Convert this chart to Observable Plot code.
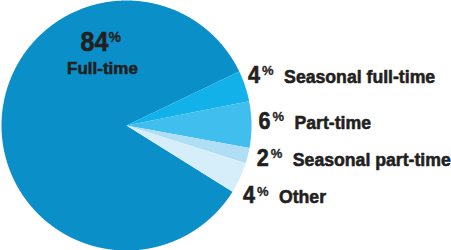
<!DOCTYPE html>
<html>
<head>
<meta charset="utf-8">
<script src="https://cdn.jsdelivr.net/npm/d3@7"></script>
<script src="https://cdn.jsdelivr.net/npm/@observablehq/plot@0.6"></script>
<style>
  html, body { margin: 0; padding: 0; background: #fff; }
  #chart svg { display: block; }
</style>
</head>
<body>
<div id="chart"></div>
<script>
// Employment type shares (percent)
const categories = ["Full-time", "Seasonal full-time", "Part-time", "Seasonal part-time", "Other"];
const shares = [84, 4, 6, 2, 4];

// Slice colours, in category order
const palette = ["#0a8fc9", "#13b1e9", "#40beee", "#b0dff5", "#d6eef9"];

// Layout: frame size, pie centre and radius in pixels
const W = 451, H = 250, CX = 126, CY = 125, R = 125;
const startDeg = 122; // where the first slice begins, clockwise from 12 o'clock
const font = "'Liberation Sans', Arial, sans-serif";
const ink = "#231f20";
// horizontal squeeze per font size, for a condensed look
const squeeze = {"24px": 0.9, "19px": 0.93, "27px": 0.93};
// a thin outline in the text colour makes the glyphs heavier
const heavy = {fill: ink, stroke: ink, strokeWidth: 0.6};

// pixel offsets of the outer labels from the rim point at each slice's mid-angle
const labelNudge = [null, [3, -3.5], [7, 4], [9, 10], [3, 25.5]];
// main label offset from the pie centre (pixels)
const mainLabel = {dx: -24, numberDy: -75, nameDy: -52};

const rows = categories.map((category, i) => ({category, share: shares[i]}));
const a0 = startDeg * Math.PI / 180;
const arcs = d3.pie().value(d => d.share).sort(null).startAngle(a0).endAngle(a0 + 2 * Math.PI)(rows);

// pie slices as planar polygons (unit radius, y pointing down)
const slices = arcs.map(a => {
  const n = Math.max(4, Math.ceil((a.endAngle - a.startAngle) / 0.005));
  const ring = [[0, 0]];
  for (let k = 0; k <= n; k++) {
    const t = a.startAngle + (a.endAngle - a.startAngle) * k / n;
    ring.push([Math.sin(t), -Math.cos(t)]);
  }
  ring.push([0, 0]);
  return {type: "Feature", properties: a.data, geometry: {type: "Polygon", coordinates: [ring]}};
});

// label anchors in the same unit space as the slices
const labels = arcs.map((a, i) => {
  const mid = (a.startAngle + a.endAngle) / 2;
  if (i === 0) {
    return {...a.data, main: true, x: mainLabel.dx / R, yNum: mainLabel.numberDy / R, yName: mainLabel.nameDy / R};
  }
  const [nx, ny] = labelNudge[i];
  return {...a.data, main: false, x: Math.sin(mid) + nx / R, yNum: -Math.cos(mid) + ny / R, yName: -Math.cos(mid) + ny / R};
});
const side = labels.filter(d => !d.main);
const main = labels.filter(d => d.main);

const frameDomain = {type: "MultiPoint", coordinates: [[-CX / R, -CY / R], [(W - CX) / R, (H - CY) / R]]};

const chart = Plot.plot({
  width: W,
  height: H,
  margin: 0,
  projection: {type: "identity", domain: frameDomain},
  color: {domain: categories, range: palette},
  marks: [
    Plot.geo(slices, {fill: d => d.properties.category, stroke: null}),
    // outer labels: number, superscript %, category name
    Plot.text(side, {x: "x", y: "yNum", text: d => String(d.share), textAnchor: "start", lineAnchor: "bottom",
      fontFamily: font, fontWeight: "bold", fontSize: 24, ...heavy}),
    Plot.text(side, {x: "x", y: "yNum", text: () => "%", textAnchor: "start", lineAnchor: "bottom", dx: 14, dy: -7.5,
      fontFamily: font, fontWeight: "bold", fontSize: 13, fill: ink, stroke: ink, strokeWidth: 0.3}),
    Plot.text(side, {x: "x", y: "yName", text: "category", textAnchor: "start", lineAnchor: "bottom", dx: 36,
      fontFamily: font, fontWeight: "bold", fontSize: 19, ...heavy}),
    // main slice label
    Plot.text(main, {x: "x", y: "yNum", text: d => String(d.share), textAnchor: "end", lineAnchor: "bottom", dx: 6,
      fontFamily: font, fontWeight: "bold", fontSize: 27, ...heavy}),
    Plot.text(main, {x: "x", y: "yNum", text: () => "%", textAnchor: "start", lineAnchor: "bottom", dx: 6, dy: -9,
      fontFamily: font, fontWeight: "bold", fontSize: 14, fill: ink, stroke: ink, strokeWidth: 0.3}),
    Plot.text(main, {x: "x", y: "yName", text: "category", textAnchor: "middle", lineAnchor: "bottom",
      fontFamily: font, fontWeight: "bold", fontSize: 17, ...heavy})
  ]
});

document.getElementById("chart").append(chart);

// narrow the bold sans glyphs horizontally, keeping each text's anchor point fixed
d3.select(chart).selectAll("text").each(function() {
  const k = squeeze[getComputedStyle(this).fontSize];
  if (!k) return;
  const x = +this.getAttribute("x") || 0, y = +this.getAttribute("y") || 0;
  const t = this.getAttribute("transform") || "";
  this.setAttribute("transform", `${t} translate(${x},${y}) scale(${k},1) translate(${-x},${-y})`);
});
</script>
</body>
</html>
